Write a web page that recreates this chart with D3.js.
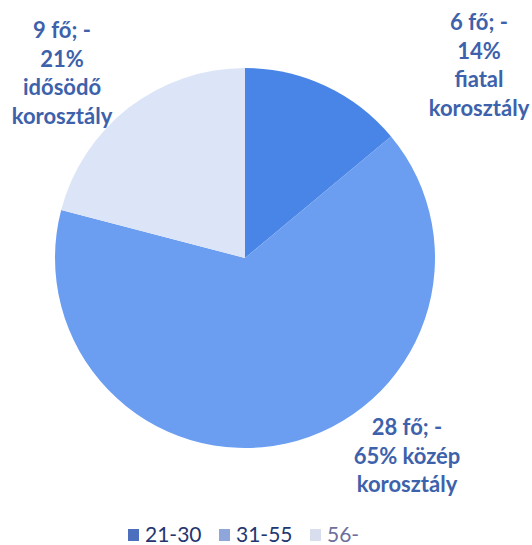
<!DOCTYPE html>
<html>
<head>
<meta charset="utf-8">
<script src="https://cdn.jsdelivr.net/npm/d3@7"></script>
<style>
  body { margin: 0; background: #fff; }
  svg { display: block; }
</style>
</head>
<body>
<svg id="chart" width="532" height="545"></svg>
<script>
// chart data
const categories = ['21-30', '31-55', '56-']
const counts = [6, 28, 9]
const percents = ['14%', '65%', '21%']
const labelLines = [
    ['6 fő; -', '14%', 'fiatal', 'korosztály'],
    ['28 fő; -', '65% közép', 'korosztály'],
    ['9 fő; -', '21%', 'idősödő', 'korosztály']
]

const width = 532
const height = 545
const cx = 245
const cy = 258
const radius = 190

// where the data labels sit (x center, first baseline)
const labelPos = [[479, 30], [407, 435], [62, 38]]
const lineGap = 28.5

const svg = d3.select('#chart')

const color = d3.scaleOrdinal()
    .domain(categories)
    .range(['#4985e6', '#6b9ef1', '#dce5f7'])

const legendColor = d3.scaleOrdinal()
    .domain(categories)
    .range(['#4c70bd', '#8fa6da', '#d9deef'])

const pie = d3.pie().sort(null).value((d) => d.count)
const arc = d3.arc().innerRadius(0).outerRadius(radius)

const rows = categories.map((c, i) => ({cat: c, count: counts[i], pct: percents[i], lines: labelLines[i]}))

const g = svg.append('g').attr('transform', `translate(${cx},${cy})`)

g.selectAll('path').data(pie(rows)).enter().append('path')
    .attr('d', arc)
    .attr('fill', (d) => color(d.data.cat))

// data labels
rows.forEach((r, i) => {
    const t = svg.append('text')
        .attr('text-anchor', 'middle')
        .attr('font-family', 'Lato, "Liberation Sans", sans-serif')
        .attr('font-weight', 'bold')
        .attr('font-size', 22)
        .attr('fill', '#3d62ab')
    r.lines.forEach((ln, j) => {
        t.append('tspan')
            .attr('x', labelPos[i][0])
            .attr('y', labelPos[i][1] + j * lineGap)
            .text(ln)
    })
})

// legend
const legendX = d3.scalePoint().domain(categories).range([128, 310])
const legend = svg.append('g')
const item = legend.selectAll('g').data(categories).enter().append('g')
    .attr('transform', (d) => `translate(${legendX(d)},0)`)
item.append('rect')
    .attr('x', 0)
    .attr('y', 529)
    .attr('width', 11)
    .attr('height', 12)
    .attr('fill', (d) => legendColor(d))
item.append('text')
    .attr('x', 17)
    .attr('y', 542)
    .attr('font-family', 'Lato, "Liberation Sans", sans-serif')
    .attr('font-size', 21)
    .attr('fill', (d, i) => i === 2 ? '#6d6f9c' : '#24366f')
    .text((d) => d)
</script>
</body>
</html>
